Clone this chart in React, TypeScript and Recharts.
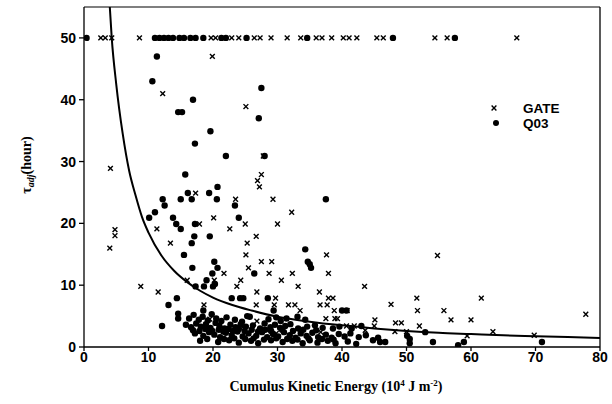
import React from "react";
import { ComposedChart, Scatter, Line, XAxis, YAxis, ReferenceLine } from "recharts";

// GATE experiment points (x = CKE in 10^4 J m^-2, y = tau_adj in hours)
const gatePoints: [number, number][] = [
  [2.6, 50], [3.3, 50], [4.3, 50], [8.6, 50], [19.7, 50], [20.4, 50], [22.9, 50], [24.0, 50],
  [26.4, 50], [27.3, 50], [29.0, 50], [31.5, 50], [33.6, 50], [36.0, 50], [36.9, 50], [38.4, 50],
  [40.2, 50], [41.1, 50], [42.3, 50], [45.4, 50], [46.4, 50], [54.4, 50], [56.3, 50], [67.1, 50],
  [19.9, 47.0], [12.2, 41.0], [25.1, 38.9], [27.8, 30.9], [4.1, 28.9], [27.5, 27.9], [26.9, 26.9],
  [27.2, 25.9], [17.3, 24.9], [23.5, 23.9], [29.3, 23.9], [32.2, 21.8], [20.1, 20.9], [17.9, 19.9],
  [25.0, 19.9], [30.0, 19.9], [4.8, 19.0], [4.8, 18.0], [11.3, 19.1], [22.6, 19.1], [4.0, 16.0],
  [26.7, 17.9], [13.4, 16.8], [25.3, 16.8], [25.1, 14.9], [37.6, 14.9], [54.8, 14.8], [27.5, 13.8],
  [29.1, 13.8], [25.5, 12.8], [21.7, 11.9], [28.7, 11.9], [32.3, 11.9], [37.9, 11.9], [20.2, 10.8],
  [24.3, 10.8], [30.6, 10.8], [16.0, 10.8], [8.8, 9.8], [23.7, 9.8], [33.2, 9.8], [43.5, 9.8],
  [11.5, 8.9], [26.8, 8.9], [36.5, 8.9], [29.7, 7.9], [37.9, 7.9], [38.6, 7.9], [51.6, 7.9],
  [61.6, 7.9], [18.6, 6.8], [26.7, 6.8], [29.5, 6.8], [31.7, 6.8], [32.7, 6.8], [36.6, 6.8],
  [37.7, 6.8], [47.6, 6.9], [33.5, 5.9], [38.8, 5.9], [40.8, 5.9], [51.7, 5.9], [55.8, 5.9],
  [77.8, 5.3], [37.5, 4.6], [38.9, 4.6], [39.3, 4.6], [45.1, 4.4], [48.3, 3.9], [49.2, 3.9],
  [56.9, 4.4], [60.0, 4.4], [26.8, 4.2], [52.0, 3.4], [40.7, 3.4], [41.9, 3.4], [43.6, 2.7],
  [45.0, 3.4], [48.2, 2.5], [50.0, 2.5], [36.7, 2.4], [59.4, 1.8], [63.4, 2.5], [69.8, 1.9],
  [19.5, 4.5], [24.6, 3.2], [29.8, 2.2],
];

// Q03 points
const q03Points: [number, number][] = [
  [0.4, 50], [11.0, 50], [11.7, 50], [12.4, 50], [13.1, 50], [13.8, 50], [14.8, 50], [15.5, 50],
  [16.5, 50], [17.3, 50], [18.5, 50], [21.3, 50], [22.0, 50], [25.2, 50], [34.6, 50], [47.9, 50],
  [57.5, 50],
  [11.3, 47.0], [10.6, 43.0], [27.5, 41.9], [16.9, 40.0], [14.6, 38.0], [15.2, 38.0], [27.1, 37.0],
  [19.6, 34.9], [17.2, 32.9], [22.0, 30.9], [28.0, 30.9], [15.7, 27.9], [20.7, 25.9], [16.1, 24.9],
  [19.4, 24.9], [12.2, 23.9], [15.0, 23.9], [16.7, 23.9], [20.6, 23.9], [37.5, 23.9], [12.5, 22.9],
  [23.4, 22.9], [11.0, 21.8], [10.1, 20.9], [13.8, 20.9], [24.0, 20.9], [14.3, 19.9], [17.2, 19.9],
  [15.0, 19.1], [17.1, 17.9], [19.5, 17.9], [16.7, 16.8], [34.3, 15.8], [15.5, 14.9], [20.2, 13.8],
  [34.7, 13.8], [35.0, 13.4], [16.8, 12.8], [20.7, 12.8], [35.2, 12.8], [19.9, 11.9], [26.4, 11.9],
  [19.0, 10.8], [17.3, 9.8], [18.6, 9.8], [20.0, 9.8], [20.3, 10.2], [14.4, 7.9], [22.9, 7.9],
  [24.2, 7.9], [24.7, 7.9], [28.5, 7.9], [13.1, 6.8], [18.5, 5.9], [29.4, 5.9], [40.0, 5.9],
  [40.7, 5.9], [14.6, 5.4], [14.6, 4.6], [25.7, 4.9], [33.1, 4.9], [12.1, 3.4], [38.6, 3.0],
  // dense cluster near the bottom
  [16.3, 4.6], [17.0, 5.2], [17.8, 4.4], [18.4, 4.9], [19.2, 4.3], [19.8, 5.3], [20.5, 4.6],
  [21.3, 4.2], [22.1, 4.8], [23.4, 4.4], [24.5, 4.1], [25.3, 5.0], [28.6, 4.5], [29.8, 4.8],
  [30.5, 4.2], [31.4, 4.6], [34.3, 4.4],
  [15.8, 3.6], [16.6, 3.2], [17.4, 3.8], [18.1, 3.3], [18.9, 3.7], [19.6, 3.1], [20.4, 3.9],
  [21.0, 3.4], [21.8, 3.0], [22.7, 3.6], [23.5, 3.2], [24.3, 3.7], [25.1, 3.3], [26.2, 3.5],
  [27.3, 3.0], [28.0, 3.8], [28.9, 3.2], [29.6, 3.6], [30.4, 3.1], [31.2, 3.4], [32.0, 3.7],
  [33.2, 3.0], [34.6, 3.3], [35.8, 3.5], [37.0, 3.1], [39.6, 3.3], [41.5, 3.0], [43.0, 3.4],
  [16.9, 2.7], [17.9, 2.6], [18.8, 2.9], [19.9, 2.6], [20.9, 2.8], [21.6, 2.5], [22.4, 2.9],
  [23.1, 2.6], [24.0, 2.9], [24.9, 2.6], [26.0, 2.8], [27.0, 2.5], [28.1, 2.8], [29.0, 2.6],
  [30.7, 2.8], [32.4, 2.6], [34.0, 2.8], [36.0, 2.7],
  [17.2, 2.2], [18.5, 1.8], [19.4, 2.4], [20.2, 2.0], [21.1, 1.6], [22.0, 2.3], [22.9, 1.9],
  [23.8, 2.5], [24.6, 1.7], [25.5, 2.2], [26.7, 1.8], [27.6, 2.4], [28.4, 1.6], [29.3, 2.1],
  [30.1, 1.7], [31.0, 2.4], [31.9, 1.9], [32.8, 1.5], [33.6, 2.2], [34.5, 1.8], [35.4, 2.3],
  [36.3, 1.6], [37.5, 2.0], [38.4, 1.5], [39.5, 2.1], [40.4, 1.7], [41.3, 2.2], [42.6, 1.6],
  [19.1, 1.3], [21.7, 1.3], [23.3, 1.4], [25.0, 1.3], [26.3, 1.4], [27.9, 1.2], [29.8, 1.4],
  [31.5, 1.3], [33.1, 1.2], [34.8, 1.4], [36.9, 1.3], [38.7, 1.2],
  [18.0, 1.0], [20.8, 0.8], [22.5, 1.1], [24.0, 0.7], [25.9, 1.0], [27.0, 0.6], [29.0, 1.1],
  [30.8, 0.8], [32.3, 1.0], [33.9, 0.6], [35.0, 1.1], [36.2, 0.7], [37.8, 1.0], [39.0, 0.6],
  [40.9, 0.9], [42.2, 0.5],
  [43.7, 1.9], [44.8, 1.1], [45.6, 1.5], [45.9, 0.8], [46.7, 0.8], [50.1, 1.8], [50.5, 1.3],
  [50.5, 0.6], [52.9, 2.4], [54.1, 0.8], [58.0, 0.3], [58.9, 0.8], [71.0, 0.8],
];

// fitted curve
const curvePoints: [number, number][] = [
  [4.0, 55], [4.3, 50], [5, 42.5], [6, 34.5], [7, 28.5], [8, 24.5], [9, 21], [10, 18.5],
  [12, 14.8], [14, 12.3], [16, 10.5], [18, 9.1], [20, 8.0], [23, 6.8], [26, 5.9], [30, 4.9],
  [35, 4.1], [40, 3.5], [45, 3.0], [50, 2.6], [55, 2.3], [60, 2.1], [65, 1.9], [70, 1.75],
  [75, 1.6], [80, 1.45],
];

const xTicks = [0, 10, 20, 30, 40, 50, 60, 70, 80];
const yTicks = [0, 10, 20, 30, 40, 50];

const toXY = (arr: [number, number][]) => arr.map(([x, y]) => ({ x, y }));

const Cross = (props: any) => {
  const { cx, cy } = props;
  const s = 2.4;
  return (
    <g stroke="#000" strokeWidth={1.4}>
      <line x1={cx - s} y1={cy - s} x2={cx + s} y2={cy + s} />
      <line x1={cx - s} y1={cy + s} x2={cx + s} y2={cy - s} />
    </g>
  );
};

const Dot = (props: any) => <circle cx={props.cx} cy={props.cy} r={3.2} fill="#000" />;

const tickStyle = { fontFamily: "Liberation Sans", fontWeight: "bold", fontSize: 14, fill: "#000" };

export default function App() {
  return (
    <div style={{ position: "absolute", left: 0, top: 0, width: 612, height: 404, background: "#fff" }}>
      <ComposedChart width={612} height={404} margin={{ top: 7, right: 12, bottom: 0, left: 0 }}>
        <XAxis
          type="number"
          dataKey="x"
          domain={[0, 80]}
          ticks={xTicks}
          height={57}
          tickSize={4}
          tickMargin={1}
          tick={tickStyle}
          stroke="#000"
          strokeWidth={1.3}
          allowDataOverflow
        />
        <YAxis
          type="number"
          dataKey="y"
          domain={[0, 55]}
          ticks={yTicks}
          width={84}
          tickSize={5}
          tickMargin={3}
          tick={tickStyle}
          stroke="#000"
          strokeWidth={1.3}
          allowDataOverflow
        />
        <ReferenceLine y={55} stroke="#000" strokeWidth={1.2} />
        <ReferenceLine x={80} stroke="#000" strokeWidth={1.3} />
        <Line
          data={toXY(curvePoints)}
          dataKey="y"
          type="monotone"
          stroke="#000"
          strokeWidth={2}
          dot={false}
          activeDot={false}
          isAnimationActive={false}
        />
        <Scatter data={toXY(gatePoints)} dataKey="y" shape={<Cross />} isAnimationActive={false} />
        <Scatter data={toXY(q03Points)} dataKey="y" shape={<Dot />} isAnimationActive={false} />
      </ComposedChart>
      <svg width={612} height={404} style={{ position: "absolute", left: 0, top: 0, pointerEvents: "none" }}>
        <text
          transform="translate(31,165) rotate(-90)"
          textAnchor="middle"
          fontFamily="Liberation Serif"
          fontWeight="bold"
          fontSize={14}
        >
          τ<tspan fontStyle="italic" fontSize={10} dy={3}>adj</tspan>
          <tspan dy={-3}>(hour)</tspan>
        </text>
        <text x={336} y={391} textAnchor="middle" fontFamily="Liberation Serif" fontWeight="bold" fontSize={14}>
          Cumulus Kinetic Energy (10<tspan fontSize={9} dy={-5}>4</tspan>
          <tspan dy={5}> J m</tspan>
          <tspan fontSize={9} dy={-5}>-2</tspan>
          <tspan dy={5}>)</tspan>
        </text>
        <Cross cx={494} cy={108} />
        <text x={523} y={113} fontFamily="Liberation Sans" fontWeight="bold" fontSize={13.5}>GATE</text>
        <circle cx={496} cy={123} r={3} fill="#000" />
        <text x={523} y={128} fontFamily="Liberation Sans" fontWeight="bold" fontSize={13.5}>Q03</text>
      </svg>
    </div>
  );
}
